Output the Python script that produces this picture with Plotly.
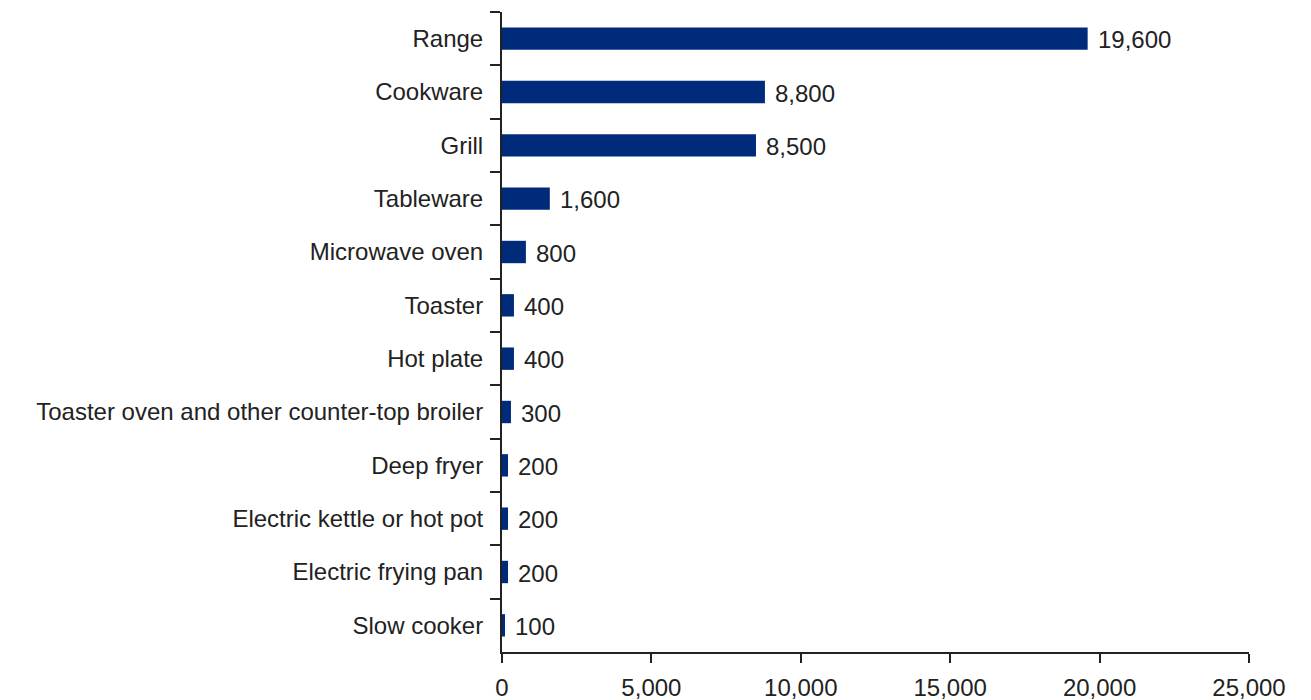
import plotly.graph_objects as go

categories = [
    "Range", "Cookware", "Grill", "Tableware", "Microwave oven", "Toaster",
    "Hot plate", "Toaster oven and other counter-top broiler", "Deep fryer",
    "Electric kettle or hot pot", "Electric frying pan", "Slow cooker",
]
values = [19600, 8800, 8500, 1600, 800, 400, 400, 300, 200, 200, 200, 100]
x_ticks = [0, 5000, 10000, 15000, 20000, 25000]
x_tick_labels = ["0", "5,000", "10,000", "15,000", "20,000", "25,000"]

FONT = "Liberation Sans"
BAR = "#002b7a"
INK = "#222222"
SIZE = 24

fig = go.Figure(go.Bar(
    x=values,
    y=categories,
    orientation="h",
    marker=dict(color=BAR, line=dict(width=0)),
    width=0.42,
    hoverinfo="x+y",
))

# value labels to the right of each bar
for cat, v in zip(categories, values):
    fig.add_annotation(
        x=v, y=cat, text=f"{v:,}",
        xanchor="left", yanchor="middle", xshift=8, yshift=-1,
        showarrow=False,
        font=dict(family=FONT, size=SIZE, color=INK),
    )

fig.update_layout(
    width=1311,
    height=700,
    margin=dict(l=502, r=62, t=12, b=48),
    plot_bgcolor="white",
    paper_bgcolor="white",
    showlegend=False,
    font=dict(family=FONT, size=SIZE, color=INK),
)

fig.update_xaxes(
    range=[0, 25000],
    tickvals=x_ticks,
    ticktext=x_tick_labels,
    automargin=False,
    showgrid=False,
    zeroline=False,
    showline=True,
    linecolor=INK,
    linewidth=2,
    ticks="outside",
    ticklen=9,
    tickwidth=2,
    tickcolor=INK,
    ticklabelstandoff=4,
    tickfont=dict(family=FONT, size=SIZE, color=INK),
)

fig.update_yaxes(
    categoryorder="array",
    categoryarray=categories,
    autorange="reversed",
    automargin=False,
    showgrid=False,
    showline=True,
    linecolor=INK,
    linewidth=2,
    ticks="outside",
    tickson="boundaries",
    ticklen=10,
    tickwidth=2,
    tickcolor=INK,
    ticklabelstandoff=12,
    tickfont=dict(family=FONT, size=SIZE, color=INK),
)

fig.write_html("out.html")
